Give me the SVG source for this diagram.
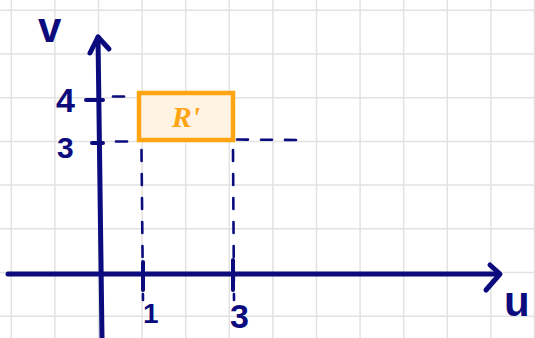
<svg xmlns="http://www.w3.org/2000/svg" width="535" height="338" viewBox="0 0 535 338">
<style>
.grid{stroke:#e2e2e2;stroke-width:1.5;fill:none}
.ax{stroke:#0b0b7e;stroke-width:5;fill:none;stroke-linecap:round;stroke-linejoin:round}
.tick{stroke:#0b0b7e;stroke-width:4;fill:none;stroke-linecap:round}
.dash{stroke:#0b0b7e;stroke-width:2.6;fill:none;stroke-linecap:round;stroke-dasharray:11 13}
.lbl{font-family:"Liberation Sans",Arial,sans-serif;font-weight:bold;fill:#0b0b7e}
.rl{font-family:"Liberation Serif",serif;font-style:italic;font-weight:bold;fill:#ffa514}
</style>
<rect width="535" height="338" fill="#ffffff"/>
<g id="grid">
<path class="grid" d="M11.3 0V338M54.9 0V338M98.5 0V338M142.1 0V338M185.7 0V338M229.3 0V338M272.9 0V338M316.5 0V338M360.1 0V338M403.7 0V338M447.3 0V338M490.9 0V338M534.5 0V338"/>
<path class="grid" d="M0 10.3H535M0 54H535M0 97.7H535M0 141.4H535M0 185.1H535M0 228.8H535M0 272.5H535M0 316.2H535"/>
</g>
<g id="region">
<rect x="139" y="93" width="94" height="47" fill="#fff3e3" stroke="#ffa514" stroke-width="4.5"/>
<text class="rl" x="186" y="127" font-size="30" text-anchor="middle">R'</text>
</g>
<g id="connectors">
<path class="dash" d="M113 96.5H136"/>
<path class="dash" d="M116 141.5H136"/>
<path class="dash" d="M237 139.5L300 140" stroke-dasharray="13 14"/>
<path class="dash" d="M141.5 150L143 300" stroke-dasharray="12 14"/>
<path class="dash" d="M233 150L234 300" stroke-dasharray="12 14"/>
<path class="tick" d="M86 100H103M92 143H103M143 262V290M233 260V290"/>
</g>
<g id="axes">
<path class="ax" d="M8 274H499"/>
<path class="ax" d="M490 265L500 274L486 290"/>
<path class="ax" d="M98 37L102 338"/>
<path class="ax" d="M90 53L98 37L109 49"/>
</g>
<g id="labels">
<text class="lbl" x="38" y="42" font-size="42">v</text>
<text class="lbl" x="504" y="316" font-size="42">u</text>
<text class="lbl" x="56" y="112" font-size="34">4</text>
<text class="lbl" x="57" y="158" font-size="30">3</text>
<text class="lbl" x="143" y="323" font-size="28">1</text>
<text class="lbl" x="230" y="328" font-size="34">3</text>
</g>
</svg>
